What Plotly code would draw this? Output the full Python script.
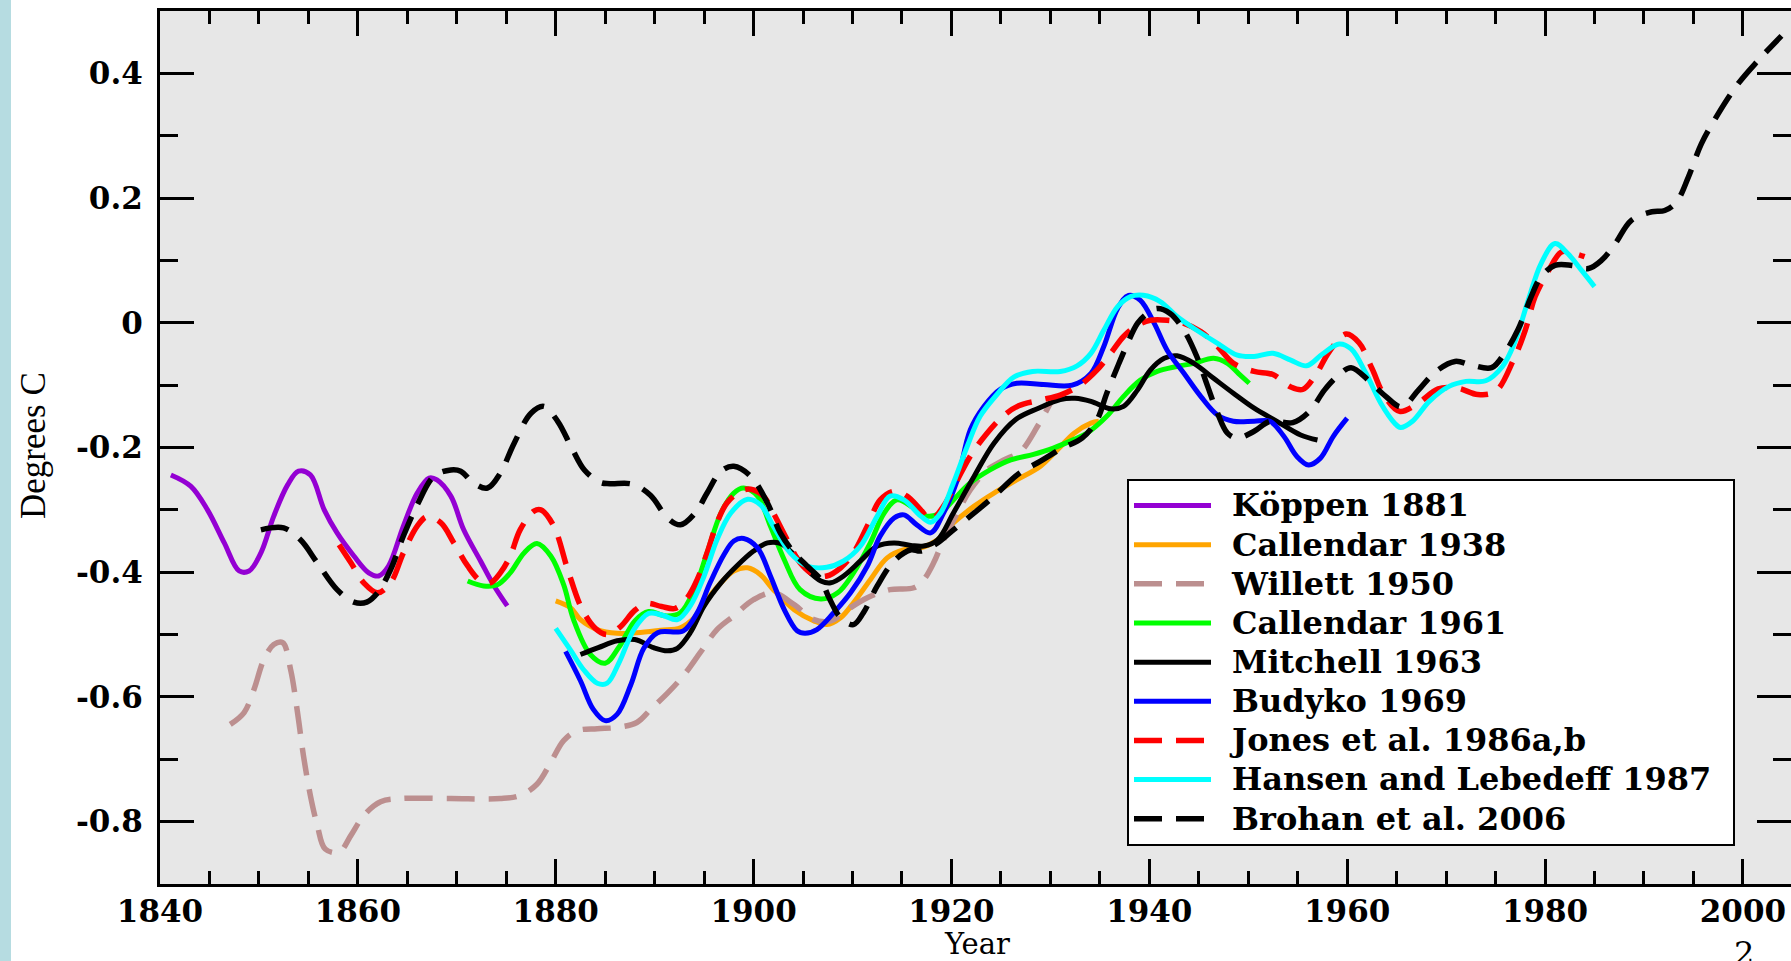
import plotly.graph_objects as go

# ---------------- axis ticks ----------------
x_tick_years = [1840, 1860, 1880, 1900, 1920, 1940, 1960, 1980, 2000]
x_tick_labels = ["1840", "1860", "1880", "1900", "1920", "1940", "1960", "1980", "2000"]
y_tick_vals = [-0.8, -0.6, -0.4, -0.2, 0.0, 0.2, 0.4]
y_tick_labels = ["-0.8", "-0.6", "-0.4", "-0.2", "0", "0.2", "0.4"]

# ---------------- reconstructions (year, anomaly in degrees C) ----------------
koppen_years = [1841.1, 1843.1, 1844.8, 1846.5, 1848.0, 1849.0, 1850.2, 1851.5, 1852.9, 1854.0,
                1855.2, 1856.6, 1857.9, 1859.6, 1861.1, 1862.1, 1863.1, 1864.6, 1866.0, 1867.2,
                1868.0, 1869.4, 1870.7, 1872.4, 1873.7, 1875.1]
koppen_vals = [-0.244, -0.262, -0.300, -0.353, -0.398, -0.398, -0.369, -0.310, -0.260, -0.238,
               -0.244, -0.300, -0.337, -0.374, -0.401, -0.406, -0.390, -0.326, -0.273, -0.249,
               -0.252, -0.278, -0.332, -0.382, -0.420, -0.454]

callendar38_years = [1880.0, 1881.5, 1882.5, 1884.2, 1886.2, 1888.2, 1890.6, 1892.6, 1894.0, 1895.3,
                     1896.7, 1898.0, 1899.4, 1900.7, 1902.0, 1904.1, 1906.1, 1907.4, 1908.8, 1910.1,
                     1911.8, 1913.5, 1915.2, 1916.9, 1918.6, 1920.2, 1922.3, 1924.3, 1926.6, 1929.0,
                     1930.7, 1932.4, 1934.1, 1934.9]
callendar38_vals = [-0.446, -0.457, -0.476, -0.492, -0.498, -0.497, -0.493, -0.489, -0.473, -0.444,
                    -0.417, -0.398, -0.393, -0.404, -0.428, -0.460, -0.478, -0.484, -0.473, -0.449,
                    -0.412, -0.377, -0.364, -0.361, -0.348, -0.321, -0.294, -0.273, -0.252, -0.230,
                    -0.204, -0.177, -0.161, -0.158]

willett_years = [1847.1, 1848.5, 1849.5, 1850.5, 1851.5, 1852.4, 1853.2, 1853.9, 1854.5, 1855.2,
                 1855.9, 1856.7, 1858.1, 1859.3, 1860.6, 1862.3, 1864.3, 1869.4, 1874.4, 1876.4,
                 1878.1, 1879.5, 1880.8, 1882.2, 1884.2, 1886.2, 1888.2, 1889.6, 1891.3, 1892.9,
                 1894.6, 1896.3, 1898.0, 1900.0, 1902.0, 1904.1, 1906.1, 1907.8, 1909.5, 1911.5,
                 1913.8, 1916.2, 1917.2, 1918.2, 1919.2, 1920.6, 1921.9, 1923.6, 1925.3, 1927.0,
                 1928.7, 1930.0]
willett_vals = [-0.644, -0.625, -0.588, -0.540, -0.516, -0.513, -0.556, -0.625, -0.694, -0.758,
                -0.806, -0.844, -0.849, -0.822, -0.790, -0.768, -0.763, -0.763, -0.763, -0.758,
                -0.740, -0.705, -0.670, -0.654, -0.651, -0.649, -0.641, -0.620, -0.594, -0.566,
                -0.529, -0.492, -0.470, -0.444, -0.433, -0.452, -0.476, -0.478, -0.460, -0.441,
                -0.428, -0.425, -0.412, -0.385, -0.348, -0.305, -0.268, -0.236, -0.220, -0.206,
                -0.166, -0.129]

callendar61_years = [1871.1, 1872.7, 1874.1, 1875.4, 1876.8, 1878.1, 1879.5, 1880.8, 1881.8, 1883.5,
                     1885.0, 1886.4, 1888.0, 1889.4, 1891.1, 1892.6, 1894.0, 1895.3, 1896.7, 1898.0,
                     1899.0, 1900.4, 1901.7, 1903.1, 1904.7, 1906.8, 1908.5, 1910.1, 1911.8, 1913.2,
                     1914.5, 1916.2, 1917.5, 1918.9, 1920.2, 1921.9, 1923.9, 1926.0, 1928.3, 1930.3,
                     1932.4, 1933.7, 1935.7, 1937.4, 1939.1, 1940.8, 1942.8, 1944.5, 1946.5, 1947.9,
                     1949.0, 1950.1]
callendar61_vals = [-0.414, -0.422, -0.420, -0.401, -0.369, -0.354, -0.374, -0.420, -0.476, -0.532,
                    -0.546, -0.520, -0.478, -0.463, -0.470, -0.465, -0.428, -0.369, -0.305, -0.273,
                    -0.265, -0.278, -0.326, -0.380, -0.428, -0.443, -0.433, -0.401, -0.353, -0.305,
                    -0.284, -0.297, -0.310, -0.305, -0.284, -0.257, -0.236, -0.220, -0.211, -0.201,
                    -0.187, -0.177, -0.150, -0.118, -0.092, -0.078, -0.070, -0.065, -0.057, -0.065,
                    -0.081, -0.097]

mitchell_years = [1882.5, 1884.3, 1886.2, 1888.0, 1889.9, 1891.3, 1892.3, 1893.6, 1895.0, 1896.7,
                  1898.3, 1900.0, 1901.4, 1902.7, 1904.1, 1905.4, 1906.8, 1907.8, 1909.1, 1910.8,
                  1912.5, 1914.2, 1915.9, 1917.2, 1918.6, 1920.2, 1922.3, 1924.3, 1926.5, 1928.8,
                  1931.0, 1932.5, 1934.1, 1936.1, 1937.4, 1938.8, 1940.1, 1941.5, 1942.8, 1944.5,
                  1946.5, 1948.5, 1950.6, 1952.9, 1955.3, 1957.0]
mitchell_vals = [-0.532, -0.521, -0.510, -0.508, -0.521, -0.526, -0.522, -0.497, -0.454, -0.417,
                 -0.390, -0.366, -0.353, -0.354, -0.372, -0.396, -0.414, -0.417, -0.406, -0.382,
                 -0.358, -0.353, -0.357, -0.358, -0.348, -0.305, -0.246, -0.193, -0.155, -0.137,
                 -0.123, -0.121, -0.126, -0.138, -0.134, -0.108, -0.076, -0.057, -0.053, -0.065,
                 -0.089, -0.113, -0.137, -0.158, -0.180, -0.188]

budyko_years = [1881.0, 1882.5, 1883.8, 1885.0, 1886.2, 1887.6, 1888.9, 1890.3, 1892.9, 1894.3,
                1895.6, 1897.0, 1898.0, 1899.0, 1900.4, 1901.7, 1903.1, 1904.4, 1905.2, 1906.4,
                1908.1, 1909.8, 1911.5, 1912.8, 1914.2, 1915.2, 1916.5, 1917.9, 1919.2, 1920.6,
                1921.9, 1923.3, 1925.0, 1926.6, 1929.3, 1932.2, 1934.1, 1935.4, 1936.8, 1937.9,
                1939.1, 1940.5, 1941.8, 1943.5, 1945.2, 1946.9, 1948.5, 1950.6, 1952.2, 1953.6,
                1954.9, 1956.1, 1957.3, 1958.6, 1960.0]
budyko_vals = [-0.527, -0.574, -0.620, -0.638, -0.628, -0.580, -0.522, -0.497, -0.494, -0.465,
               -0.417, -0.372, -0.350, -0.346, -0.361, -0.406, -0.460, -0.494, -0.498, -0.492,
               -0.465, -0.433, -0.390, -0.342, -0.313, -0.308, -0.324, -0.337, -0.305, -0.252,
               -0.172, -0.134, -0.106, -0.097, -0.099, -0.100, -0.081, -0.038, 0.023, 0.044,
               0.036, -0.001, -0.044, -0.081, -0.118, -0.148, -0.158, -0.158, -0.158, -0.182,
               -0.214, -0.228, -0.217, -0.182, -0.153]

jones_years = [1858.1, 1859.3, 1860.6, 1862.0, 1863.3, 1864.6, 1866.0, 1867.0, 1868.4, 1869.7,
               1871.1, 1872.4, 1873.4, 1874.4, 1875.4, 1876.4, 1877.8, 1878.5, 1879.8, 1881.2,
               1882.6, 1884.0, 1885.2, 1886.5, 1888.0, 1889.2, 1890.7, 1892.1, 1893.3, 1894.3,
               1895.3, 1896.3, 1897.3, 1898.7, 1899.7, 1901.0, 1902.0, 1903.4, 1904.7, 1906.1,
               1907.4, 1908.8, 1910.1, 1911.5, 1912.8, 1914.2, 1915.5, 1916.9, 1917.9, 1919.2,
               1920.6, 1921.9, 1923.6, 1925.2, 1926.8, 1929.0, 1931.0, 1933.0, 1934.7, 1936.1,
               1937.4, 1938.8, 1940.1, 1941.8, 1943.5, 1945.2, 1946.9, 1948.5, 1950.6, 1952.5,
               1954.3, 1955.5, 1956.8, 1958.2, 1959.9, 1961.2, 1962.5, 1963.8, 1965.3, 1967.1,
               1969.2, 1971.2, 1973.2, 1975.0, 1976.8, 1978.0, 1979.0, 1980.3, 1981.7, 1983.0,
               1984.0]
jones_vals = [-0.356, -0.385, -0.417, -0.433, -0.417, -0.369, -0.326, -0.311, -0.321, -0.353,
              -0.390, -0.414, -0.417, -0.401, -0.374, -0.332, -0.302, -0.300, -0.326, -0.395,
              -0.457, -0.490, -0.500, -0.488, -0.461, -0.450, -0.455, -0.458, -0.441, -0.412,
              -0.369, -0.321, -0.289, -0.270, -0.267, -0.278, -0.305, -0.348, -0.385, -0.404,
              -0.406, -0.393, -0.369, -0.326, -0.284, -0.270, -0.278, -0.300, -0.316, -0.294,
              -0.252, -0.214, -0.177, -0.150, -0.133, -0.124, -0.116, -0.100, -0.076, -0.049,
              -0.022, -0.004, 0.004, 0.004, -0.001, -0.014, -0.038, -0.065, -0.078, -0.083,
              -0.103, -0.107, -0.084, -0.046, -0.018, -0.032, -0.073, -0.118, -0.142, -0.130,
              -0.106, -0.105, -0.115, -0.110, -0.060, -0.012, 0.042, 0.082, 0.114, 0.111,
              0.106]

hansen_years = [1880.0, 1881.5, 1882.8, 1884.2, 1885.2, 1886.4, 1887.9, 1889.4, 1890.8, 1892.3,
                1893.6, 1895.0, 1896.3, 1897.7, 1899.4, 1900.7, 1902.0, 1903.7, 1905.4, 1907.4,
                1909.1, 1910.8, 1912.5, 1913.8, 1915.2, 1916.9, 1917.9, 1918.9, 1920.2, 1921.6,
                1922.9, 1924.6, 1926.3, 1928.2, 1931.0, 1932.7, 1934.1, 1935.4, 1936.8, 1938.1,
                1939.4, 1941.1, 1942.8, 1944.8, 1946.9, 1948.9, 1950.6, 1952.5, 1954.3, 1955.9,
                1957.5, 1959.2, 1960.4, 1961.9, 1963.4, 1964.8, 1965.4, 1966.6, 1968.3, 1970.3,
                1972.0, 1974.0, 1975.7, 1976.9, 1978.3, 1979.6, 1981.0, 1982.3, 1983.7, 1985.0]
hansen_vals = [-0.490, -0.525, -0.556, -0.578, -0.578, -0.545, -0.492, -0.466, -0.469, -0.476,
               -0.454, -0.406, -0.348, -0.305, -0.283, -0.292, -0.326, -0.369, -0.390, -0.392,
               -0.382, -0.358, -0.310, -0.278, -0.284, -0.310, -0.320, -0.305, -0.257, -0.198,
               -0.150, -0.115, -0.087, -0.078, -0.078, -0.069, -0.049, -0.012, 0.026, 0.042,
               0.044, 0.034, 0.010, -0.012, -0.033, -0.052, -0.054, -0.049, -0.060, -0.069,
               -0.050, -0.034, -0.042, -0.081, -0.129, -0.161, -0.168, -0.158, -0.126, -0.102,
               -0.094, -0.093, -0.070, -0.033, 0.036, 0.095, 0.127, 0.111, 0.084, 0.058]

brohan_years = [1850.2, 1852.5, 1854.2, 1855.9, 1857.9, 1859.6, 1860.9, 1862.0, 1863.3, 1864.6,
                1866.0, 1867.7, 1869.4, 1870.4, 1871.7, 1873.1, 1874.4, 1875.8, 1877.5, 1878.8,
                1880.2, 1881.6, 1882.9, 1884.5, 1885.5, 1887.8, 1889.6, 1891.3, 1892.6, 1894.1,
                1895.3, 1896.7, 1898.0, 1899.7, 1901.4, 1902.7, 1904.1, 1905.4, 1906.8, 1907.6,
                1908.8, 1910.1, 1911.1, 1912.5, 1914.2, 1915.9, 1916.9, 1918.6, 1920.2, 1922.3,
                1924.3, 1926.8, 1929.0, 1931.2, 1933.2, 1934.7, 1935.7, 1936.8, 1937.8, 1938.8,
                1939.8, 1940.8, 1942.1, 1943.5, 1944.8, 1945.9, 1946.9, 1947.9, 1948.9, 1950.6,
                1952.2, 1954.5, 1956.2, 1957.7, 1959.0, 1960.4, 1962.2, 1963.9, 1965.5, 1967.2,
                1968.9, 1970.9, 1972.6, 1974.6, 1975.9, 1977.3, 1978.6, 1979.6, 1981.0, 1982.7,
                1984.4, 1985.7, 1987.1, 1988.7, 1990.8, 1992.1, 1993.3, 1994.5, 1995.8, 1997.5,
                1999.5, 2001.5, 2003.9]
brohan_vals = [-0.332, -0.329, -0.348, -0.385, -0.428, -0.448, -0.448, -0.433, -0.396, -0.342,
               -0.292, -0.246, -0.236, -0.238, -0.257, -0.265, -0.241, -0.193, -0.145, -0.134,
               -0.158, -0.200, -0.236, -0.256, -0.258, -0.259, -0.277, -0.313, -0.324, -0.305,
               -0.273, -0.238, -0.230, -0.246, -0.289, -0.337, -0.369, -0.390, -0.412, -0.440,
               -0.473, -0.484, -0.465, -0.422, -0.382, -0.364, -0.366, -0.353, -0.332, -0.305,
               -0.278, -0.242, -0.222, -0.201, -0.185, -0.156, -0.113, -0.070, -0.033, -0.001,
               0.015, 0.023, 0.015, -0.012, -0.054, -0.102, -0.145, -0.177, -0.185, -0.174,
               -0.158, -0.160, -0.142, -0.108, -0.086, -0.072, -0.093, -0.118, -0.135, -0.108,
               -0.079, -0.062, -0.068, -0.072, -0.049, -0.010, 0.042, 0.074, 0.092, 0.092,
               0.087, 0.100, 0.127, 0.164, 0.178, 0.180, 0.194, 0.234, 0.287, 0.335,
               0.383, 0.420, 0.460]

series = [
    ("Köppen 1881", koppen_years, koppen_vals, "#9400D3", "solid"),
    ("Callendar 1938", callendar38_years, callendar38_vals, "#FFA500", "solid"),
    ("Willett 1950", willett_years, willett_vals, "#BC8F8F", "28px,14px"),
    ("Callendar 1961", callendar61_years, callendar61_vals, "#00FF00", "solid"),
    ("Mitchell 1963", mitchell_years, mitchell_vals, "#000000", "solid"),
    ("Budyko 1969", budyko_years, budyko_vals, "#0000FF", "solid"),
    ("Jones et al. 1986a,b", jones_years, jones_vals, "#FF0000", "28px,14px"),
    ("Hansen and Lebedeff 1987", hansen_years, hansen_vals, "#00FFFF", "solid"),
    ("Brohan et al. 2006", brohan_years, brohan_vals, "#000000", "28px,14px"),
]

# ---------------- page geometry (pixels) ----------------
W, H = 1791, 961
ML, MR, MT, MB = 160, 0, 11, 77
PW = W - ML - MR
PH = H - MT - MB


def px_x(px):
    return (px - ML) / PW


def px_y(py):
    return (H - MB - py) / PH


fig = go.Figure()

for name, xs, ys, color, dash in series:
    fig.add_trace(go.Scatter(
        x=xs, y=ys, mode="lines", line_shape="spline",
        # legend rows are spaced by the legend font; the label itself is set larger
        name="<span style='font-size:32px'>\u2002" + name + "\u2002</span>",
        line=dict(color=color, width=5.5 if dash != "solid" else 5, dash=dash),
        hoverinfo="skip",
    ))

# carrier for the right-hand tick marks
fig.add_trace(go.Scatter(x=[], y=[], yaxis="y2", showlegend=False, hoverinfo="skip"))

tick_font = dict(family="DejaVu Serif", size=31, color="black", weight="bold")

fig.update_layout(
    width=W, height=H,
    margin=dict(l=ML, r=MR, t=MT, b=MB, pad=0),
    paper_bgcolor="white",
    plot_bgcolor="#E7E7E7",
    showlegend=True,
    legend=dict(
        x=px_x(1127), y=px_y(479), xanchor="left", yanchor="top",
        bgcolor="white", bordercolor="black", borderwidth=2,
        font=dict(family="DejaVu Serif", size=27.8, color="black", weight="bold"),
        itemwidth=77, tracegroupgap=0,
    ),
    xaxis=dict(
        range=[1840, 1840 + PW / 9.893],
        tickmode="array", tickvals=x_tick_years, ticktext=x_tick_labels,
        ticks="inside", ticklen=25, tickwidth=3, tickcolor="black",
        showline=True, linewidth=3, linecolor="black", mirror="ticks",
        showgrid=False, zeroline=False,
        tickfont=tick_font, ticklabelstandoff=-2,
        minor=dict(tickmode="linear", tick0=1840, dtick=5, ticks="inside",
                   ticklen=13, tickwidth=3, tickcolor="black", showgrid=False),
    ),
    yaxis=dict(
        range=[-0.9, 0.5],
        tickmode="array", tickvals=y_tick_vals, ticktext=y_tick_labels,
        ticks="inside", ticklen=34, tickwidth=3, tickcolor="black",
        showline=True, linewidth=3, linecolor="black",
        showgrid=False, zeroline=False,
        tickfont=tick_font, ticklabelstandoff=8,
        minor=dict(tickmode="linear", tick0=0, dtick=0.1, ticks="inside",
                   ticklen=18, tickwidth=3, tickcolor="black", showgrid=False),
    ),
    yaxis2=dict(
        overlaying="y", side="right", range=[-0.9, 0.5],
        tickmode="array", tickvals=y_tick_vals,
        ticks="inside", ticklen=34, tickwidth=3, tickcolor="black",
        showticklabels=False, showline=False, showgrid=False, zeroline=False,
        minor=dict(tickmode="linear", tick0=0, dtick=0.1, ticks="inside",
                   ticklen=18, tickwidth=3, tickcolor="black", showgrid=False),
    ),
    shapes=[
        dict(type="rect", xref="paper", yref="paper",
             x0=px_x(0), x1=px_x(11), y0=px_y(H), y1=px_y(0),
             fillcolor="#B6DCE1", line=dict(width=0), layer="below"),
    ],
    annotations=[
        dict(text="Degrees C", textangle=-90, showarrow=False,
             xref="paper", yref="paper", x=px_x(33), y=px_y(446),
             xanchor="center", yanchor="middle",
             font=dict(family="Liberation Serif", size=35, color="black")),
        dict(text="Year", showarrow=False,
             xref="paper", yref="paper", x=px_x(977), y=px_y(944),
             xanchor="center", yanchor="middle",
             font=dict(family="DejaVu Serif", size=29, color="black")),
        dict(text="2", showarrow=False,
             xref="paper", yref="paper", x=px_x(1744), y=px_y(932),
             xanchor="center", yanchor="top",
             font=dict(family="DejaVu Serif", size=32, color="black")),
    ],
)

fig.write_html("out.html")
